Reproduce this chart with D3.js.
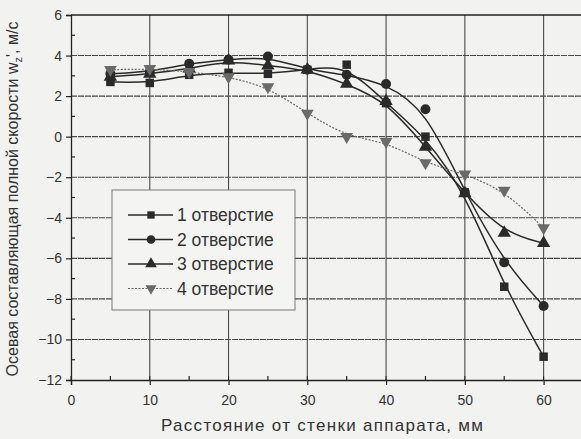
<!DOCTYPE html>
<html><head><meta charset="utf-8">
<script src="https://cdn.jsdelivr.net/npm/d3@7"></script>
<style>
html,body{margin:0;padding:0;background:#f2f2f0;}
svg{display:block;font-family:"Liberation Sans",Arial,sans-serif;}
</style></head>
<body><svg id="c" width="581" height="439"></svg>
<script>
const xValues = [5,10,15,20,25,30,35,40,45,50,55,60];
const series1 = [2.7,2.65,3.05,3.15,3.1,3.3,3.55,1.65,0.0,-2.75,-7.4,-10.85];
const series2 = [3.1,3.2,3.6,3.8,3.95,3.3,3.05,2.6,1.35,-2.75,-6.2,-8.35];
const series3 = [2.95,3.1,3.35,3.75,3.5,3.3,2.6,1.75,-0.5,-2.8,-4.75,-5.25];
const series4 = [3.3,3.35,3.2,2.95,2.45,1.15,0.0,-0.25,-1.3,-1.85,-2.65,-4.5];
const seriesNames = ["1 отверстие","2 отверстие","3 отверстие","4 отверстие"];
const xTicks = [0,10,20,30,40,50,60];
const yTicks = [-12,-10,-8,-6,-4,-2,0,2,4,6];
const xMinor = [5,15,25,35,45,55];
const yMinor = [-11,-9,-7,-5,-3,-1,1,3,5];

const svg = d3.select("#c");
const x = d3.scaleLinear().domain([0,65]).range([71,583]);
const y = d3.scaleLinear().domain([-12,6]).range([380,15]);

const styles = [
  {color:"#2a2a2a", dash:null, sym:d3.symbolSquare, size:72, rot:0},
  {color:"#2a2a2a", dash:null, sym:d3.symbolCircle, size:78, rot:0},
  {color:"#2a2a2a", dash:null, sym:d3.symbolTriangle, size:78, rot:0},
  {color:"#6a6a6a", dash:"2,1.5", sym:d3.symbolTriangle, size:70, rot:180}
];
const data = [series1,series2,series3,series4];

// grid
const g = svg.append("g");
g.selectAll(".gx").data(xTicks.filter(d=>d>0)).join("line")
  .attr("x1",d=>x(d)).attr("x2",d=>x(d)).attr("y1",y(6)).attr("y2",y(-12))
  .attr("stroke","#4a4a4a").attr("stroke-width",1.1);
g.selectAll(".gy").data(yTicks.filter(d=>d>-12 && d<6)).join("line")
  .attr("x1",x(0)).attr("x2",x(65)).attr("y1",d=>y(d)).attr("y2",d=>y(d))
  .attr("stroke","#4a4a4a").attr("stroke-width",1.1).attr("stroke-dasharray","6,1");

// frame
svg.append("line").attr("x1",x(0)).attr("x2",x(65)).attr("y1",y(6)).attr("y2",y(6)).attr("stroke","#222").attr("stroke-width",1.3);

// axes
const xAxis = d3.axisBottom(x).tickValues(xTicks).tickSize(5).tickPadding(10).tickFormat(d3.format("d"));
const ax = svg.append("g").attr("transform",`translate(0,${y(-12)})`).call(xAxis);
const yAxis = d3.axisLeft(y).tickValues(yTicks).tickSize(5).tickPadding(4).tickFormat(d3.format("d"));
const ay = svg.append("g").attr("transform",`translate(${x(0)},0)`).call(yAxis);
[ax,ay].forEach(a=>{
  a.select(".domain").attr("stroke","#222").attr("stroke-width",1.3);
  a.selectAll(".tick line").attr("stroke","#222").attr("stroke-width",1.2);
  a.selectAll("text").attr("font-size",14).attr("fill","#333").attr("font-family","Liberation Sans, Arial, sans-serif");
});
// crossing ticks + minor inward ticks
svg.append("g").selectAll("line").data(xTicks).join("line")
  .attr("x1",d=>x(d)).attr("x2",d=>x(d)).attr("y1",y(-12)).attr("y2",y(-12)-4).attr("stroke","#222");
svg.append("g").selectAll("line").data(xMinor).join("line")
  .attr("x1",d=>x(d)).attr("x2",d=>x(d)).attr("y1",y(-12)).attr("y2",y(-12)-4).attr("stroke","#222").attr("stroke-width",1.2);
svg.append("g").selectAll("line").data(yMinor).join("line")
  .attr("x1",x(0)).attr("x2",x(0)+4).attr("y1",d=>y(d)).attr("y2",d=>y(d)).attr("stroke","#222").attr("stroke-width",1.2);

// series
const line = d3.line().curve(d3.curveBasis).x(d=>x(d[0])).y(d=>y(d[1]));
data.forEach((s,i)=>{
  const st = styles[i];
  const pts = xValues.map((xv,j)=>[xv,s[j]]);
  svg.append("path").datum(pts).attr("d",line).attr("fill","none")
    .attr("stroke",st.color).attr("stroke-width",i===3?1.2:1.5)
    .attr("stroke-dasharray",st.dash);
  svg.append("g").selectAll("path").data(pts).join("path")
    .attr("d",d3.symbol().type(st.sym).size(st.size))
    .attr("transform",d=>`translate(${x(d[0])},${y(d[1])}) rotate(${st.rot})`)
    .attr("fill",st.color);
});

// legend
const lg = svg.append("g");
lg.append("rect").attr("x",112).attr("y",190).attr("width",183).attr("height",120)
  .attr("fill","#f4f4f2").attr("stroke","#777").attr("stroke-width",1);
seriesNames.forEach((n,i)=>{
  const st = styles[i];
  const ly = 215 + i*24.5;
  lg.append("line").attr("x1",128).attr("x2",173).attr("y1",ly).attr("y2",ly)
    .attr("stroke",st.color).attr("stroke-width",i===3?1.2:1.5).attr("stroke-dasharray",st.dash);
  lg.append("path").attr("d",d3.symbol().type(st.sym).size(st.size*0.75)())
    .attr("transform",`translate(151,${ly}) rotate(${st.rot})`).attr("fill",st.color);
  lg.append("text").attr("x",177).attr("y",ly+6).attr("font-size",17.5).attr("fill","#333").text(n);
});

// titles
svg.append("text").attr("x",322).attr("y",431).attr("text-anchor","middle")
  .attr("font-size",17).attr("textLength",322).attr("lengthAdjust","spacing")
  .attr("fill","#333").text("Расстояние от стенки аппарата, мм");
const yt = svg.append("text").attr("transform","translate(18,199) rotate(-90)")
  .attr("text-anchor","middle").attr("font-size",16).attr("fill","#333");
yt.append("tspan").text("Осевая составляющая полной скорости w");
yt.append("tspan").attr("font-size",11).attr("dy",4).text("z");
yt.append("tspan").attr("dy",-4).text("', м/с");
</script></body></html>
